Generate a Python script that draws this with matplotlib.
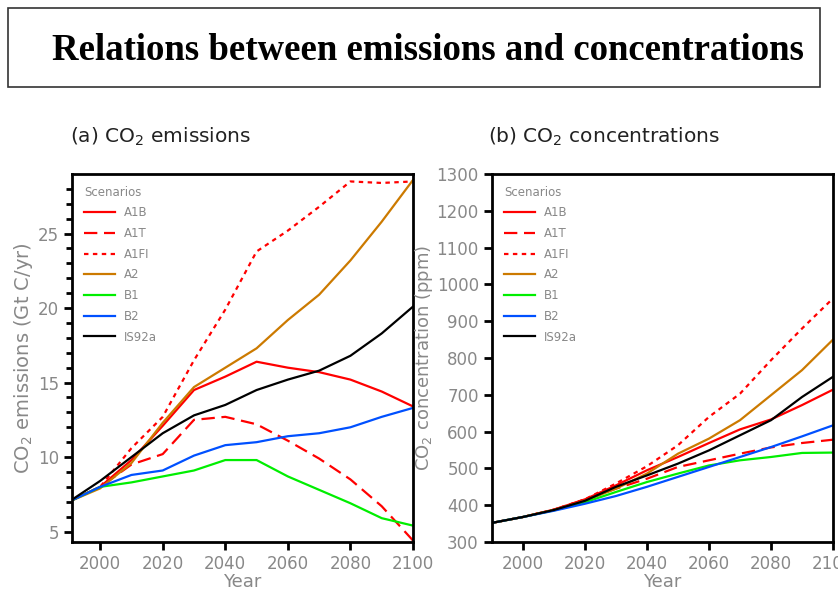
import matplotlib
matplotlib.use('Agg')
import matplotlib.pyplot as plt
from matplotlib.patches import Rectangle

# years shared by every scenario
years = [1990, 2000, 2010, 2020, 2030, 2040, 2050, 2060, 2070, 2080, 2090, 2100]

# (a) CO2 emissions, Gt C/yr
emis_a1b = [7.0, 8.0, 9.8, 12.1, 14.5, 15.4, 16.4, 16.0, 15.7, 15.2, 14.4, 13.4]
emis_a1t = [7.0, 8.0, 9.5, 10.2, 12.5, 12.7, 12.2, 11.1, 9.9, 8.5, 6.7, 4.4]
emis_a1fi = [7.0, 8.0, 10.6, 12.7, 16.5, 19.9, 23.8, 25.2, 26.8, 28.5, 28.4, 28.5]
emis_a2 = [7.0, 7.9, 9.6, 12.3, 14.7, 16.0, 17.3, 19.2, 20.9, 23.2, 25.8, 28.6]
emis_b1 = [7.0, 8.0, 8.3, 8.7, 9.1, 9.8, 9.8, 8.7, 7.8, 6.9, 5.9, 5.4]
emis_b2 = [7.0, 8.0, 8.8, 9.1, 10.1, 10.8, 11.0, 11.4, 11.6, 12.0, 12.7, 13.3]
emis_is92a = [7.0, 8.4, 10.0, 11.6, 12.8, 13.5, 14.5, 15.2, 15.8, 16.8, 18.3, 20.1]

# (b) CO2 concentrations, ppm
conc_a1b = [352, 368, 388, 416, 454, 495, 531, 569, 606, 633, 672, 714]
conc_a1t = [352, 368, 388, 415, 445, 472, 504, 522, 540, 557, 569, 578]
conc_a1fi = [352, 368, 388, 416, 459, 506, 563, 640, 703, 794, 880, 962]
conc_a2 = [352, 368, 387, 412, 445, 486, 540, 581, 631, 699, 767, 850]
conc_b1 = [352, 368, 386, 408, 436, 463, 486, 508, 522, 531, 542, 543]
conc_b2 = [352, 368, 385, 404, 425, 450, 477, 504, 531, 558, 587, 617]
conc_is92a = [352, 368, 387, 412, 450, 481, 513, 549, 590, 631, 694, 749]

names = ['A1B', 'A1T', 'A1FI', 'A2', 'B1', 'B2', 'IS92a']
colors = ['#ff0000', '#ff0000', '#ff0000', '#cc7a00', '#00ee00', '#0050ff', '#000000']
styles = ['-', (0, (6, 3)), (0, (2, 2)), '-', '-', '-', '-']

gray = '#888888'

fig = plt.figure(figsize=(8.38, 5.94), dpi=100)

# title box
fig.patches.append(Rectangle((8 / 838, 507 / 594), 812 / 838, 79 / 594,
                             transform=fig.transFigure, fill=False,
                             edgecolor='#333333', linewidth=1.2))
fig.text(428 / 838, 1 - 50 / 594, 'Relations between emissions and concentrations',
         ha='center', va='center', fontsize=26.5, fontweight='bold',
         family='Liberation Serif')


def style_axes(ax):
    for s in ax.spines.values():
        s.set_linewidth(2)
    ax.tick_params(direction='out', length=6, width=2, labelcolor=gray, labelsize=12)
    ax.tick_params(which='minor', direction='out', length=4, width=2)
    ax.set_xlabel('Year', color=gray, fontsize=13, labelpad=0)
    leg = ax.legend(loc='upper left', title='Scenarios', frameon=False,
                    fontsize=8.5, title_fontsize=8.5, handlelength=2.6,
                    labelspacing=0.65, borderaxespad=0.6, alignment='left')
    for t in leg.get_texts():
        t.set_color(gray)
    leg.get_title().set_color(gray)


# (a) emissions
ax1 = fig.add_axes([72 / 838, 52 / 594, 341 / 838, 368 / 594])
series_a = [emis_a1b, emis_a1t, emis_a1fi, emis_a2, emis_b1, emis_b2, emis_is92a]
for vals, name, c, ls in zip(series_a, names, colors, styles):
    ax1.plot(years, vals, color=c, linestyle=ls, linewidth=1.6, label=name)
ax1.set_xlim(1991, 2100)
ax1.set_ylim(4.3, 29)
ax1.set_xticks([2000, 2020, 2040, 2060, 2080, 2100])
ax1.set_yticks([5, 10, 15, 20, 25])
ax1.set_yticks(range(5, 29), minor=True)
ax1.set_ylabel('CO$_2$ emissions (Gt C/yr)', color=gray, fontsize=14, labelpad=2)
style_axes(ax1)
fig.text(70 / 838, 1 - 137 / 594, '(a) CO$_2$ emissions', fontsize=14.5,
         color='#222222', va='center')

# (b) concentrations
ax2 = fig.add_axes([492 / 838, 52 / 594, 341 / 838, 368 / 594])
series_b = [conc_a1b, conc_a1t, conc_a1fi, conc_a2, conc_b1, conc_b2, conc_is92a]
for vals, name, c, ls in zip(series_b, names, colors, styles):
    ax2.plot(years, vals, color=c, linestyle=ls, linewidth=1.6, label=name)
ax2.set_xlim(1990, 2100)
ax2.set_ylim(300, 1300)
ax2.set_xticks([2000, 2020, 2040, 2060, 2080, 2100])
ax2.set_yticks(range(300, 1301, 100))
ax2.set_ylabel('CO$_2$ concentration (ppm)', color=gray, fontsize=13, labelpad=1)
style_axes(ax2)
fig.text(488 / 838, 1 - 137 / 594, '(b) CO$_2$ concentrations', fontsize=14.5,
         color='#222222', va='center')

fig.savefig('out.png', dpi=100)
